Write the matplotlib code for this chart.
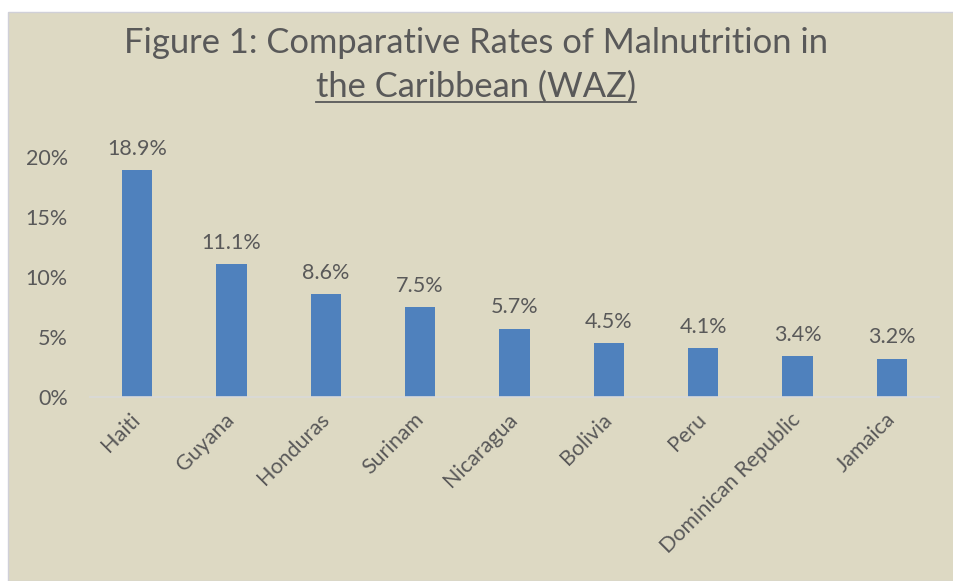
import matplotlib
matplotlib.use("Agg")
import matplotlib.pyplot as plt
from matplotlib.lines import Line2D

countries = ["Haiti", "Guyana", "Honduras", "Surinam", "Nicaragua", "Bolivia",
             "Peru", "Dominican Republic", "Jamaica"]
rates = [18.9, 11.1, 8.6, 7.5, 5.7, 4.5, 4.1, 3.4, 3.2]
yticks = [0, 5, 10, 15, 20]
ytick_labels = ["0%", "5%", "10%", "15%", "20%"]

W, H = 954, 581
DPI = 100
BG = "#DDD9C3"
TXT = "#595959"
BAR = "#4F81BD"
FONT = ["Lato", "DejaVu Sans"]
plt.rcParams["font.family"] = FONT
FS = 15.5

fig = plt.figure(figsize=(W / DPI, H / DPI), dpi=DPI)
fig.patch.set_facecolor("white")
# beige panel
fig.patches.append(plt.Rectangle((8 / W, 0), 1 - 8 / W, 1 - 12 / H, transform=fig.transFigure,
                                 facecolor=BG, edgecolor="#D0D0D8", linewidth=1, zorder=-5))

ax_l, ax_r = 90, 939
ax_b, ax_t = 397, 157
ax = fig.add_axes([ax_l / W, 1 - ax_b / H, (ax_r - ax_l) / W, (ax_b - ax_t) / H])
ax.set_zorder(2)
ax.set_facecolor("none")
x = list(range(len(countries)))
ax.bar(x, rates, width=0.32, color=BAR, zorder=2)
ax.set_xlim(-0.5, len(countries) - 0.5)
ax.set_ylim(0, 20)
ax.set_yticks(yticks)
ax.set_yticklabels(ytick_labels, fontsize=FS, color=TXT)
ax.set_xticks(x)
ax.set_xticklabels(countries, rotation=45, ha="right", va="center", rotation_mode="anchor",
                   fontsize=FS, color=TXT)
ax.tick_params(axis="both", length=0)
ax.tick_params(axis="y", pad=16)
ax.tick_params(axis="x", pad=14)
for s in ["top", "right", "left"]:
    ax.spines[s].set_visible(False)
ax.spines["bottom"].set_color("#D9D9D9")
ax.spines["bottom"].set_linewidth(1.2)
for xi, v in zip(x, rates):
    ax.annotate(f"{v:.1f}%", (xi, v), xytext=(0, 8), textcoords="offset points",
                ha="center", va="bottom", fontsize=FS, color=TXT)

t1 = fig.text(476 / W, 1 - 43 / H, "Figure 1: Comparative Rates of Malnutrition in",
              ha="center", va="center", fontsize=24.8, color=TXT, zorder=3)
t2 = fig.text(476 / W, 1 - 87 / H, "the Caribbean (WAZ)",
              ha="center", va="center", fontsize=24.8, color=TXT, zorder=3)
fig.canvas.draw()
bb = t2.get_window_extent()
uy = 1 - 102 / H
fig.lines.append(Line2D([bb.x0 / W, bb.x1 / W], [uy, uy], transform=fig.transFigure,
                        color=TXT, linewidth=1.3, zorder=3))

fig.savefig("out.png", dpi=DPI, facecolor=fig.get_facecolor())
